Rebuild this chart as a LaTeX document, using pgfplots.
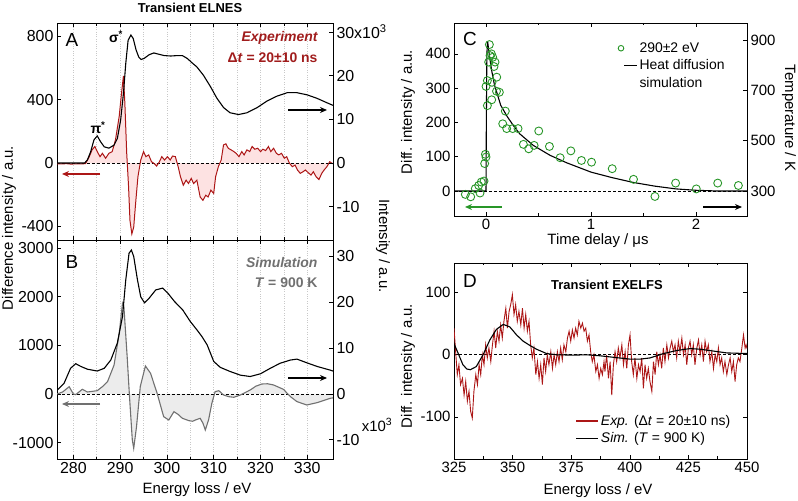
\documentclass[border=0pt]{standalone}
\usepackage{fontspec}
\setmainfont{Liberation Sans}
\usepackage{pgfplots}
\pgfplotsset{compat=1.18}
\usepackage{pgfplotstable}
\usetikzlibrary{arrows.meta}

\definecolor{expred}{RGB}{172,22,22}
\definecolor{txtred}{RGB}{160,28,28}
\definecolor{expfill}{RGB}{253,226,226}
\definecolor{simgray}{RGB}{112,112,112}
\definecolor{simfill}{RGB}{236,236,236}
\definecolor{dgreen}{RGB}{40,150,40}
\definecolor{gridgray}{RGB}{200,200,200}

\pgfplotsset{
  panel/.style={scale only axis, anchor=south west, tick align=inside,
    axis line style={line width=0.8pt},
    major tick length=4bp, minor tick length=2.5bp,
    every tick/.style={black, line width=0.6pt},
    /pgf/number format/assume math mode=true,
    /pgf/number format/1000 sep={},
    scaled ticks=false,
    ticklabel style={font=\fontsize{16}{16}\selectfont}},
  elnes/.style={panel, width=276bp, xmin=276.5, xmax=335.5,
    xtick={280,290,...,330}, minor xtick={285,295,...,325}},
  elnesleft/.style={elnes, ytick pos=left,
    xmajorgrids, xminorgrids,
    major grid style={gridgray, dotted, line width=0.7pt},
    minor grid style={gridgray, dotted, line width=0.7pt}},
  elnesright/.style={elnes, axis x line=none, axis y line*=right},
  zero/.style={black, densely dashed, line width=0.8pt, forget plot},
}

% Panel A: experiment (difference, left) and ground state (intensity, right, x10^3)
\pgfplotstableread{
x y
276.5 -5
277.5 -6
278.5 -4
279.5 -7
280.5 -5
281.5 -6
282.6 -4
283.4 40
284.0 83
284.6 104
285.1 72
285.7 40
286.2 61
286.9 30
287.6 61
288.3 72
289.0 146
289.8 294
290.3 442
290.7 548
291.0 381
291.4 63
291.8 -150
292.1 -362
292.5 -447
292.9 -404
293.3 -256
293.8 -87
294.4 19
295.0 72
295.5 40
296.1 51
296.7 8
297.2 -2
297.8 -19
298.4 8
298.9 40
299.5 19
300.1 40
300.7 19
301.2 44
301.8 40
302.4 -23
302.9 -87
303.5 -140
304.1 -108
304.6 -129
305.2 -97
305.7 -129
306.4 -108
307.1 -214
307.7 -235
308.3 -203
308.8 -214
309.4 -171
310.0 -192
310.4 -87
311.0 -23
311.6 19
312.1 114
312.6 121
313.1 93
313.7 83
314.3 72
314.8 61
315.4 40
316.0 72
316.5 51
317.1 83
317.7 72
318.2 104
318.8 87
319.4 93
320.0 72
320.5 87
321.1 78
321.7 104
322.2 72
322.8 93
323.4 61
323.9 51
324.5 61
325.1 30
325.6 40
326.2 -2
326.8 -23
327.4 -13
327.9 -44
328.5 -65
329.1 -55
329.6 -44
330.2 -61
330.8 -76
331.3 -55
331.9 -87
332.5 -104
333.1 -65
333.6 -44
334.2 -23
334.8 8
335.3 -2
335.5 -5
}\expA

\pgfplotstableread{
x y
276.5 0
282.4 0
283.0 0.7
283.7 2.6
284.4 5.3
285.1 6.2
285.8 4.9
286.6 3.7
287.6 3.4
288.7 4.1
289.4 5.6
290.1 9.8
290.7 15.9
291.2 22.8
291.7 28.1
292.3 29.3
292.8 28.5
293.4 25.9
294.0 24.2
294.5 23.7
295.2 24.0
296.2 24.8
297.2 25.2
298.3 24.9
299.4 24.6
300.8 24.5
302.2 24.6
303.3 24.6
304.4 23.9
305.2 23.1
306.4 22.0
307.8 20.1
309.3 17.5
310.7 14.8
312.1 12.7
313.5 11.5
315.3 11.1
317.1 11.5
319.3 12.7
321.4 14.2
323.5 15.3
325.7 16.1
327.8 16.1
330.0 15.6
332.1 14.8
334.2 13.8
335.5 13.2
}\gsA

% Panel B: simulation
\pgfplotstableread{
x y
276.5 0
277.7 41
279.1 150
280.0 0
280.5 -14
281.9 96
283.0 41
285.1 68
286.2 150
287.3 253
288.7 595
289.8 1246
290.5 1862
290.8 1794
291.5 766
292.0 -55
292.6 -944
292.9 -1115
293.5 -671
294.3 150
295.4 575
296.5 425
297.9 14
299.3 -466
300.4 -534
301.5 -363
302.4 -420
303.3 -499
304.7 -548
305.5 -560
306.1 -534
307.1 -499
307.7 -600
308.2 -739
308.9 -534
309.6 -192
310.3 48
311.1 68
312.1 -21
313.2 -55
314.3 -68
315.7 -21
317.8 82
319.0 160
320.3 205
321.5 210
322.8 185
324.9 96
326.4 -55
327.8 -157
329.9 -226
332.1 -178
334.9 -89
335.5 -80
}\simB

\pgfplotstableread{
x y
276.5 0.8
278.0 2.3
279.4 5.6
280.5 6.6
281.6 6.0
283.0 5.4
285.1 5.0
286.6 5.6
288.0 7.4
289.4 11.1
290.5 16.9
291.2 24.9
291.9 30.7
292.4 31.4
292.9 30.0
293.7 24.9
294.4 21.2
295.2 19.9
296.2 20.9
297.6 22.7
299.1 23.1
300.2 22.0
301.6 20.2
303.4 18.3
305.0 15.8
306.4 14.0
307.5 12.5
308.6 10.7
310.0 7.1
311.4 5.8
313.5 4.9
315.7 4.1
317.8 3.8
320.0 4.4
322.1 5.6
324.2 6.7
326.4 7.4
327.8 7.6
329.9 6.8
332.1 6.0
334.9 5.2
335.5 5.0
}\gsB

% Panel C: kinetics at 290 eV
\pgfplotstableread{
t d
-0.197 -10
-0.146 -17
-0.102 7
-0.070 16
-0.057 -6
-0.045 26
-0.019 29
-0.013 80
-0.006 107
0.000 99
0.000 305
0.013 322
0.013 249
0.025 376
0.032 427
0.038 395
0.051 400
0.054 266
0.057 317
0.064 390
0.076 363
0.086 376
0.100 291
0.102 332
0.127 288
0.159 196
0.184 233
0.197 182
0.254 182
0.305 182
0.356 136
0.407 123
0.458 133
0.502 175
0.604 130
0.706 97
0.808 117
0.909 89
1.005 84
1.202 65
1.405 34
1.609 -16
1.806 23
2.003 6
2.207 23
2.404 16
}\kinC

\pgfplotstableread{
t d
-0.30 0
0.000 0
0.003 200
0.008 400
0.015 437
0.030 400
0.054 351
0.080 310
0.100 290
0.140 250
0.200 218
0.260 191
0.320 167
0.450 133
0.610 104
0.770 82
1.000 55
1.200 39
1.400 25
1.610 14
1.810 6
2.000 2
2.200 0
2.490 0
}\heatC

% Panel D: EXELFS
\pgfplotstableread{
x y
325.0 43
325.7 5
326.4 -32
327.1 -16
327.8 -48
328.6 -38
329.3 -65
330.0 -43
330.7 -75
331.4 -59
332.1 -91
332.8 -102
333.5 -59
334.3 -32
335.0 -48
335.7 -16
336.4 -32
337.1 0
337.8 -16
338.5 16
339.2 -5
339.9 11
340.7 -11
341.4 16
342.1 38
342.8 11
343.5 38
344.2 22
344.9 48
345.6 27
346.3 54
347.1 75
347.8 43
348.5 70
349.2 81
349.9 97
350.6 65
351.3 81
352.0 54
352.7 70
353.5 48
354.2 75
354.9 43
355.6 65
356.3 38
357.0 54
357.7 16
358.4 -5
359.1 11
359.9 -32
360.6 -11
361.3 -38
362.0 -16
362.7 -48
363.4 -5
364.1 -27
364.8 0
365.5 -16
366.3 5
367.0 -22
367.7 0
368.4 -16
369.1 5
369.8 -11
370.5 11
371.2 -8
371.9 16
372.7 5
373.4 27
374.1 38
374.8 22
375.5 40
376.2 27
376.9 43
377.6 32
378.3 54
379.1 43
379.8 51
380.5 38
381.2 43
381.9 22
382.6 32
383.3 5
384.0 -11
384.7 0
385.5 -27
386.2 -16
386.9 -38
387.6 -22
388.3 -32
389.0 -11
389.4 -27
390.1 0
390.9 -38
391.6 -11
392.3 -65
393.0 -16
393.7 5
394.4 -11
395.1 11
395.8 -5
396.6 16
397.3 -16
398.0 5
398.7 -22
399.4 16
400.1 32
400.8 -11
401.5 -32
402.2 -5
403.0 -38
403.7 -16
404.4 -27
405.1 -5
405.8 -54
406.5 -16
407.2 -38
407.9 -22
408.6 -43
409.4 -59
410.1 -11
410.8 -32
411.5 5
412.2 -16
412.9 0
413.6 -22
414.3 11
415.0 -11
415.8 16
416.5 -5
417.2 11
417.9 22
418.6 5
419.3 16
420.0 -5
420.7 22
421.4 5
422.2 27
422.9 0
423.6 16
424.3 -16
425.0 11
425.7 22
426.4 0
427.1 16
427.8 -16
428.6 11
429.3 24
430.0 0
430.7 16
431.4 -11
432.1 22
432.8 5
433.5 16
434.2 -11
435.0 5
435.7 -22
436.4 0
437.1 -11
437.8 11
438.5 -16
439.2 -5
439.9 -27
440.6 -11
441.4 -32
442.1 -16
442.8 -5
443.5 -27
444.2 -11
444.9 -43
445.6 -16
446.3 -5
447.0 -11
447.8 11
448.5 32
449.2 11
449.6 16
450.0 10
}\expD

\pgfplotstableread{
x y
325.0 18
326.7 3
328.8 -16
330.5 -23
332.0 -24
334.5 -19
337.4 0
340.3 24
343.1 41
346.0 49
348.8 45
351.7 32
354.5 22
357.4 15
360.2 9
364.5 2
368.8 0
375.9 -0.5
381.6 0
387.3 -1.6
393.0 -4
400.1 -7
404.4 -7
408.7 -5
414.4 2
420.1 7
425.8 10
430.0 9
435.7 6
441.4 3
450.0 2
}\simD

\begin{document}
\begin{tikzpicture}
\useasboundingbox (0,0) rectangle (798bp,501bp);

% ---------- A ----------
\begin{axis}[elnesleft, at={(57bp,261bp)}, height=217bp,
  ymin=-485, ymax=882, ytick={-400,0,400,800}, xticklabels={}]
\addplot[fill=expfill, draw=none, forget plot] table {\expA} \closedcycle;
\addplot[zero] coordinates {(276.5,0) (335.5,0)};
\addplot[expred, line width=1pt] table {\expA};
\end{axis}
\begin{axis}[elnesright, at={(57bp,261bp)}, height=217bp,
  ymin=-17.63, ymax=32.06, ytick={-10,0,...,30},
  yticklabels={-10,0,10,20,{30x10\textsuperscript{3}}}]
\addplot[black, line width=1.1pt] table {\gsA};
\end{axis}

% ---------- B ----------
\begin{axis}[elnesleft, at={(57bp,42bp)}, height=219bp,
  ymin=-1335, ymax=3162, ytick={-1000,0,...,3000}]
\addplot[fill=simfill, draw=none, forget plot] table {\simB} \closedcycle;
\addplot[zero] coordinates {(276.5,0) (335.5,0)};
\addplot[simgray, line width=1.1pt] table {\simB};
\end{axis}
\begin{axis}[elnesright, at={(57bp,42bp)}, height=219bp,
  ymin=-14.2, ymax=33.6, ytick={-10,0,...,30}]
\addplot[black, line width=1.1pt] table {\gsB};
\end{axis}

% ---------- C ----------
\begin{axis}[panel, at={(454bp,285bp)}, width=293bp, height=193bp,
  xmin=-0.305, xmax=2.486, ymin=-73, ymax=490,
  xtick={0,1,2}, minor x tick num=1, ytick={0,100,...,400}, ytick pos=left,
  ticklabel style={font=\fontsize{15}{15}\selectfont},
  legend style={draw=none, fill=none, at={(0.548,0.92)}, anchor=north west,
    font=\fontsize{14}{14}\selectfont, row sep=2pt,
    cells={anchor=west}}]
\addplot[zero] coordinates {(-0.305,0) (2.486,0)};
\addplot[black, line width=1.1pt, forget plot] table {\heatC};
\addplot[only marks, mark=o, mark size=4pt, dgreen, line width=0.9pt, forget plot] table {\kinC};
\addlegendimage{legend image code/.code={\draw[dgreen, line width=0.9pt] (-3bp,0bp) circle (2.8bp);}}
\addlegendentry{290±2 eV}
\addlegendimage{legend image code/.code={\draw[black, line width=1pt] (0bp,0bp) -- (13bp,0bp);}}
\addlegendentry{Heat diffusion}
\addlegendimage{empty legend}
\addlegendentry{simulation}
\end{axis}
\begin{axis}[panel, at={(454bp,285bp)}, width=293bp, height=193bp,
  xmin=-0.305, xmax=2.486, ymin=200.6, ymax=968,
  axis x line=none, axis y line*=right, ytick={300,500,700,900},
  ticklabel style={font=\fontsize{15}{15}\selectfont}]
\addplot[draw=none] coordinates {(0,300)};
\end{axis}

% ---------- D ----------
\begin{axis}[panel, at={(454bp,42bp)}, width=293bp, height=196bp,
  xmin=325, xmax=450, ymin=-168, ymax=148,
  xtick={325,350,...,450}, minor x tick num=1, ytick={-100,0,100},
  ticklabel style={font=\fontsize{15}{15}\selectfont},
  legend style={draw=none, fill=none, at={(0.405,0.245)}, anchor=north west,
    font=\fontsize{14}{14}\selectfont, row sep=2pt, cells={anchor=west}}]
\addplot[zero] coordinates {(325,0) (450,0)};
\addplot[expred, line width=0.9pt, forget plot] table {\expD};
\addplot[black, line width=1.1pt, forget plot] table {\simD};
\addlegendimage{legend image code/.code={\draw[expred, line width=1.1pt] (0bp,0bp) -- (22bp,0bp);}}
\addlegendentry{\textit{Exp.} (Δ\textit{t} = 20±10 ns)}
\addlegendimage{legend image code/.code={\draw[black, line width=1.1pt] (0bp,0bp) -- (22bp,0bp);}}
\addlegendentry{\textit{Sim.} (\textit{T} = 900 K)}
\end{axis}

% ---------- text and arrows ----------
\node[font=\bfseries\fontsize{13}{13}\selectfont] at (190bp,493bp) {Transient ELNES};
\node[font=\fontsize{19}{19}\selectfont] at (72bp,461bp) {A};
\node[font=\fontsize{19}{19}\selectfont] at (72bp,239bp) {B};
\node[font=\fontsize{19}{19}\selectfont] at (470bp,462bp) {C};
\node[font=\fontsize{19}{19}\selectfont] at (470bp,220bp) {D};
\node[font=\bfseries\fontsize{14}{14}\selectfont] at (116bp,464bp) {σ\textsuperscript{*}};
\node[font=\bfseries\fontsize{14}{14}\selectfont] at (98bp,373bp) {π\textsuperscript{*}};
\node[anchor=east, text=txtred, font=\bfseries\itshape\fontsize{14}{14}\selectfont] at (321bp,463bp) {Experiment};
\node[anchor=east, text=txtred, font=\bfseries\fontsize{14}{14}\selectfont] at (321bp,443bp) {Δ\textit{t} = 20±10 ns};
\node[anchor=east, text=simgray, font=\bfseries\itshape\fontsize{14}{14}\selectfont] at (321bp,238bp) {Simulation};
\node[anchor=east, text=simgray, font=\bfseries\fontsize{14}{14}\selectfont] at (321bp,218bp) {\textit{T} = 900 K};
\node[font=\fontsize{15}{15}\selectfont] at (377bp,76bp) {x10\textsuperscript{3}};
\node[font=\bfseries\fontsize{13}{13}\selectfont] at (607bp,216bp) {Transient EXELFS};

\node[rotate=90, font=\fontsize{15}{15}\selectfont] at (9bp,273bp) {Difference intensity / a.u.};
\node[rotate=-90, font=\fontsize{15}{15}\selectfont] at (383bp,255bp) {Intensity / a.u.};
\node[font=\fontsize{15}{15}\selectfont] at (197bp,11bp) {Energy loss / eV};
\node[font=\fontsize{15}{15}\selectfont] at (598bp,260bp) {Time delay / μs};
\node[rotate=90, font=\fontsize{15}{15}\selectfont] at (408bp,389bp) {Diff. intensity / a.u.};
\node[rotate=-90, font=\fontsize{15}{15}\selectfont] at (789bp,383bp) {Temperature / K};
\node[rotate=90, font=\fontsize{15}{15}\selectfont] at (408bp,135bp) {Diff. intensity / a.u.};
\node[font=\fontsize{15}{15}\selectfont] at (598bp,10bp) {Energy loss / eV};

\draw[expred, line width=1.2pt, -{Stealth[length=7bp,width=6bp]}] (100bp,327bp) -- (62bp,327bp);
\draw[black, line width=1.2pt, -{Stealth[length=7bp,width=6bp]}] (288bp,391bp) -- (327bp,391bp);
\draw[simgray, line width=1.2pt, -{Stealth[length=7bp,width=6bp]}] (100bp,97bp) -- (62bp,97bp);
\draw[black, line width=1.2pt, -{Stealth[length=7bp,width=6bp]}] (288bp,123bp) -- (327bp,123bp);
\draw[dgreen, line width=1.2pt, -{Stealth[length=7bp,width=6bp]}] (502bp,294bp) -- (465bp,294bp);
\draw[black, line width=1.2pt, -{Stealth[length=7bp,width=6bp]}] (703bp,294bp) -- (742bp,294bp);
\end{tikzpicture}
\end{document}
